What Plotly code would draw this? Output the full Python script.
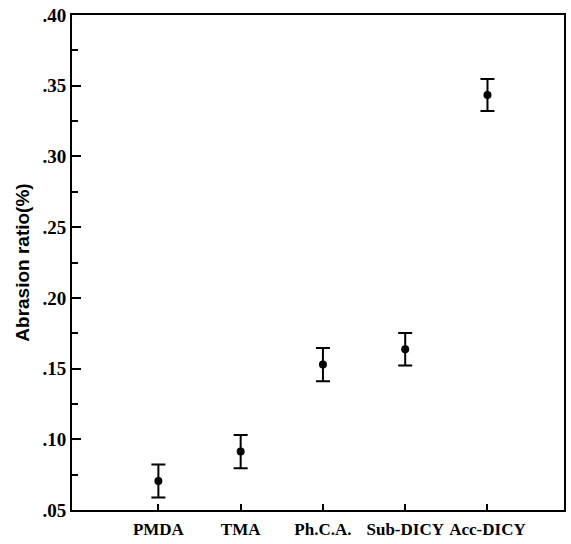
import plotly.graph_objects as go

# Curing agents and measured abrasion ratio (%) with error margins
agents = ["PMDA", "TMA", "Ph.C.A.", "Sub-DICY", "Acc-DICY"]
abrasion = [0.0705, 0.0913, 0.1528, 0.1636, 0.3435]
error = [0.0117, 0.0117, 0.0117, 0.0115, 0.0113]
y_ticks = [0.05, 0.10, 0.15, 0.20, 0.25, 0.30, 0.35, 0.40]
y_tick_labels = [".05", ".10", ".15", ".20", ".25", ".30", ".35", ".40"]

positions = list(range(len(agents)))

fig = go.Figure(
    go.Scatter(
        x=positions,
        y=abrasion,
        mode="markers",
        marker=dict(color="black", size=8, symbol="circle"),
        error_y=dict(type="data", array=error, visible=True,
                     color="black", thickness=2, width=7),
        showlegend=False,
    )
)

fig.update_layout(
    width=571,
    height=544,
    margin=dict(l=72, r=5, t=15, b=33),
    paper_bgcolor="white",
    plot_bgcolor="white",
    xaxis=dict(
        range=[-1.05, 4.93],
        tickmode="array",
        tickvals=positions,
        ticktext=agents,
        ticks="inside",
        ticklen=6,
        tickwidth=2,
        tickcolor="black",
        showline=True,
        linecolor="black",
        linewidth=2,
        mirror=True,
        showgrid=False,
        zeroline=False,
        ticklabelstandoff=3,
        tickfont=dict(family="Liberation Serif", size=17, color="black", weight="bold"),
    ),
    yaxis=dict(
        range=[0.05, 0.40],
        tickmode="array",
        tickvals=y_ticks,
        ticktext=y_tick_labels,
        ticks="inside",
        ticklen=9,
        tickwidth=2,
        tickcolor="black",
        minor=dict(dtick=0.025, ticks="inside", ticklen=6, tickwidth=1.5,
                   tickcolor="black", showgrid=False),
        showline=True,
        linecolor="black",
        linewidth=2,
        mirror=True,
        showgrid=False,
        zeroline=False,
        tickfont=dict(family="Liberation Serif", size=19, color="black", weight="bold"),
        title=dict(text="Abrasion ratio(%)",
                   font=dict(family="Liberation Sans", size=19, color="black", weight=600),
                   standoff=8),
    ),
)

fig.write_html("out.html")
